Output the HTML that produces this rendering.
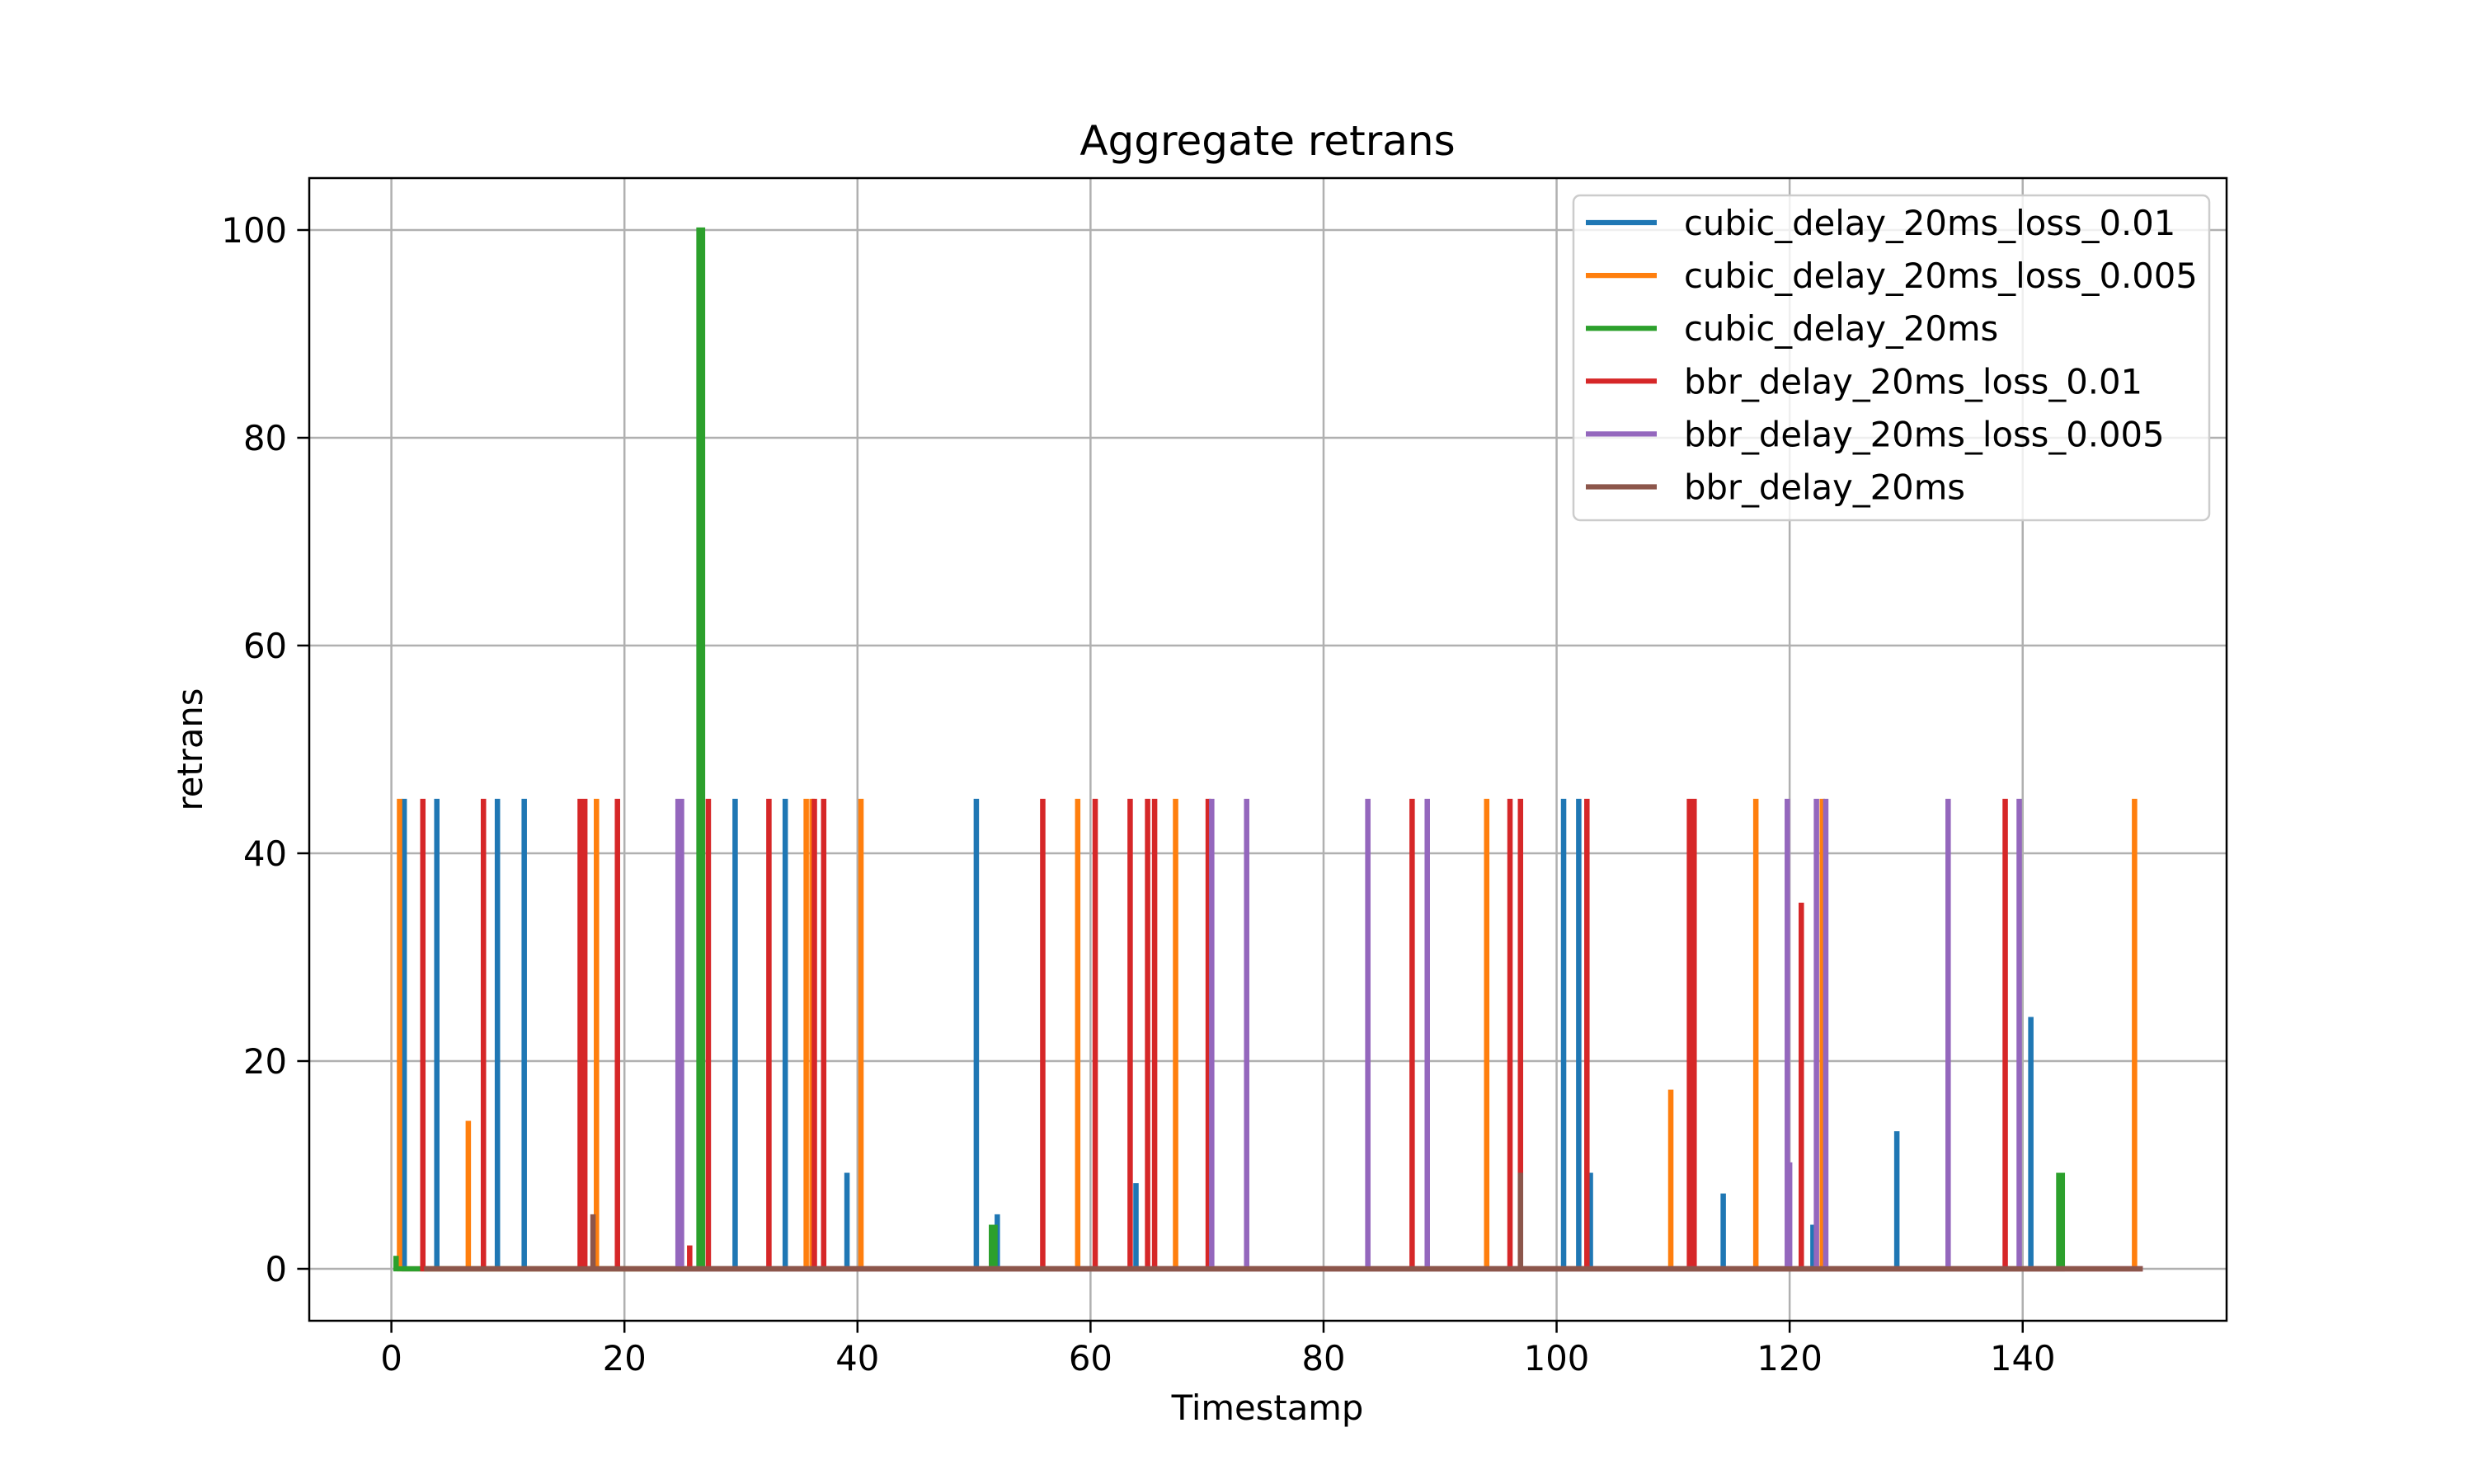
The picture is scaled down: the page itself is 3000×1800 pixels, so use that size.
<!DOCTYPE html>
<html><head><meta charset="utf-8">
<style>body{margin:0;background:#fff}svg{display:block;font-family:"DejaVu Sans","Liberation Sans",sans-serif}</style>
</head><body>
<svg id="chart" width="3000" height="1800" viewBox="0 0 3000 1800" xmlns="http://www.w3.org/2000/svg">
<rect width="3000" height="1800" fill="#fff"/>
<g id="grid"></g>
<g id="series"></g>
<rect x="375" y="216" width="2325" height="1386" fill="none" stroke="#000" stroke-width="2.5"/>
<g id="ticks"></g>
<text x="1537" y="188" font-size="50" text-anchor="middle">Aggregate retrans</text>
<text x="1537" y="1722" font-size="41.7" text-anchor="middle">Timestamp</text>
<text x="0" y="0" font-size="41.7" text-anchor="middle" transform="translate(245,909) rotate(-90)">retrans</text>
<g id="legend"></g>
</svg>
<script>
const xTicks=[0,20,40,60,80,100,120,140];
const yTicks=[0,20,40,60,80,100];
const seriesNames=["cubic_delay_20ms_loss_0.01","cubic_delay_20ms_loss_0.005","cubic_delay_20ms","bbr_delay_20ms_loss_0.01","bbr_delay_20ms_loss_0.005","bbr_delay_20ms"];
const seriesColors=["#1f77b4","#ff7f0e","#2ca02c","#d62728","#9467bd","#8c564b"];
const seriesRange=[[1.0,150.3],[0.7,150.3],[0.4,143.6],[2.7,150.3],[24.5,150.3],[2.8,150.3]];
const blueT=[1.1,3.9,9.1,11.4,29.5,33.8,39.1,50.2,52.0,63.9,100.6,101.9,102.9,114.3,122.0,129.2,140.7];
const blueV=[45,45,45,45,45,45,9,45,5,8,45,45,9,7,4,13,24];
const orangeT=[0.7,6.6,17.6,35.6,36.1,40.3,58.9,67.3,94.0,109.8,117.1,122.8,149.6];
const orangeV=[45,14,45,45,45,45,45,45,45,17,45,45,45];
const greenT=[0.4,26.4,26.7,51.5,51.8,143.1,143.4];
const greenV=[1,100,100,4,4,9,9];
const redT=[2.7,7.9,16.2,16.6,19.4,25.6,27.2,32.4,36.3,37.1,55.9,60.4,63.4,64.9,65.5,70.1,87.6,96.0,96.9,102.6,111.4,111.8,121.0,138.5];
const redV=[45,45,45,45,45,2,45,45,45,45,45,45,45,45,45,45,45,45,45,45,45,45,35,45];
const purpleT=[24.6,24.9,70.4,73.4,83.8,88.9,119.8,120.0,122.3,123.1,133.6,139.7];
const purpleV=[45,45,45,45,45,45,45,10,45,45,45,45];
const brownT=[17.3,96.9];
const brownV=[5,9];
const seriesT=[blueT,orangeT,greenT,redT,purpleT,brownT];
const seriesV=[blueV,orangeV,greenV,redV,purpleV,brownV];

const NS="http://www.w3.org/2000/svg";
const X0=375,X1=2700,Y0=216,Y1=1602,xmin=-7.05,xmax=157.5,ymin=-5,ymax=105;
const sx=v=>X0+(v-xmin)/(xmax-xmin)*(X1-X0);
const sy=v=>Y1-(v-ymin)/(ymax-ymin)*(Y1-Y0);
function mk(tag,attrs,parent){const e=document.createElementNS(NS,tag);for(const k in attrs)e.setAttribute(k,attrs[k]);parent.appendChild(e);return e;}
const grid=document.getElementById('grid'),ticks=document.getElementById('ticks');
xTicks.forEach(t=>{
  const g=mk('line',{x1:sx(t),x2:sx(t),y1:Y0,y2:Y1,stroke:'#b0b0b0','stroke-width':2.5},grid);
  
  
  const tk=mk('line',{x1:sx(t),x2:sx(t),y1:Y1,y2:Y1+14.6,stroke:'#000','stroke-width':2.5},ticks);
  
  
  const tx=mk('text',{x:sx(t),y:Y1+60,'font-size':41.7,'text-anchor':'middle'},ticks);tx.textContent=t;
  
  
});
yTicks.forEach(t=>{
  const g=mk('line',{x1:X0,x2:X1,y1:sy(t),y2:sy(t),stroke:'#b0b0b0','stroke-width':2.5},grid);
  
  
  const tk=mk('line',{x1:X0-14.6,x2:X0,y1:sy(t),y2:sy(t),stroke:'#000','stroke-width':2.5},ticks);
  
  
  const tx=mk('text',{x:X0-27,y:sy(t)+15,'font-size':41.7,'text-anchor':'end'},ticks);tx.textContent=t;
  
  
});
const sg=document.getElementById('series');
seriesNames.forEach((n,i)=>{
  const T=seriesT[i],V=seriesV[i],r=seriesRange[i];
  const idx=T.map((_,j)=>j).sort((a,b)=>T[a]-T[b]);
  let d=`M${sx(r[0])},${sy(0)}`;
  idx.forEach(j=>{const t=T[j],v=V[j];d+=`L${sx(t-0.01)},${sy(0)}L${sx(t-0.01)},${sy(v)}L${sx(t+0.01)},${sy(v)}L${sx(t+0.01)},${sy(0)}`;});
  d+=`L${sx(r[1])},${sy(0)}`;
  const p=mk('path',{d:d,fill:'none',stroke:seriesColors[i],'stroke-width':6.25,'stroke-linejoin':'miter'},sg);
  
  
});
const lg=document.getElementById('legend');
const box=mk('rect',{x:1908,y:237,width:771,height:394,rx:8,fill:'#fff','fill-opacity':0.8,stroke:'#ccc','stroke-width':2.5},lg);


seriesNames.forEach((n,i)=>{
  const y=270+i*64.1;
  const l=mk('line',{x1:1923,x2:2009,y1:y,y2:y,stroke:seriesColors[i],'stroke-width':6.25},lg);
  
  
  const t=mk('text',{x:2042,y:y+15,'font-size':41.7},lg);t.textContent=n;
  
  
});
</script>
</body></html>
